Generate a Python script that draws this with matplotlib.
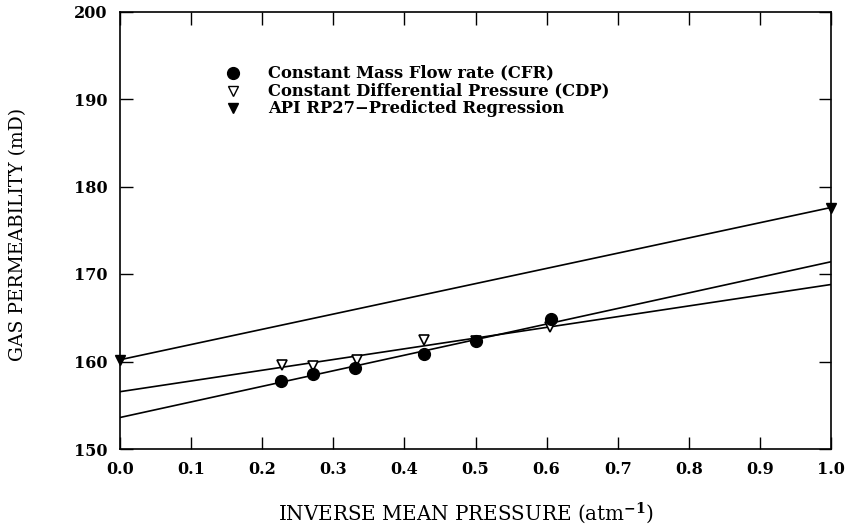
import matplotlib
matplotlib.use("Agg")
import matplotlib.pyplot as plt
import numpy as np

# ---- data ----
cfr_x = [0.227, 0.271, 0.331, 0.427, 0.501, 0.606]
cfr_y = [157.8, 158.6, 159.3, 160.9, 162.3, 164.9]
cdp_x = [0.228, 0.272, 0.333, 0.427, 0.501, 0.605]
cdp_y = [159.6, 159.5, 160.2, 162.5, 162.3, 164.0]
api_x = [0.0, 1.0]
api_y = [160.2, 177.6]
fit_x = [0.0, 1.0]
cfr_fit = [153.6, 171.4]
cdp_fit = [156.55, 168.8]
api_fit = [160.2, 177.6]
legend_labels = ["Constant Mass Flow rate (CFR)",
                 "Constant Differential Pressure (CDP)",
                 "API RP27\u2212Predicted Regression"]
xticks = [0.0, 0.1, 0.2, 0.3, 0.4, 0.5, 0.6, 0.7, 0.8, 0.9, 1.0]
yticks = [150, 160, 170, 180, 190, 200]

plt.rcParams['mathtext.fontset'] = 'dejavuserif'

fig = plt.figure(figsize=(8.49, 5.31), dpi=100)
ax = fig.add_axes([120/849, 1-449/531, 711/849, 437.5/531])

lw = 1.2
ax.plot(fit_x, cfr_fit, color='black', lw=lw, zorder=2)
ax.plot(fit_x, cdp_fit, color='black', lw=lw, zorder=2)
ax.plot(fit_x, api_fit, color='black', lw=lw, zorder=2)

ax.plot(cdp_x, cdp_y, linestyle='none', marker='v', markersize=7.5,
        markerfacecolor='white', markeredgecolor='black', markeredgewidth=1.2,
        zorder=3, clip_on=False)
ax.plot(cfr_x, cfr_y, linestyle='none', marker='o', markersize=8.5,
        color='black', zorder=4, clip_on=False)
ax.plot(api_x, api_y, linestyle='none', marker='v', markersize=7.5,
        color='black', zorder=4, clip_on=False)

ax.set_xlim(0, 1)
ax.set_ylim(150, 200)
ax.set_xticks(xticks)
ax.set_yticks(yticks)
ax.set_xticklabels([f"{t:.1f}" for t in xticks])
ax.set_yticklabels([str(t) for t in yticks])
ax.tick_params(direction='in', length=9, width=1.0, top=True, right=True,
               labeltop=False, labelright=False)
for lab in ax.get_xticklabels() + ax.get_yticklabels():
    lab.set_fontfamily('DejaVu Serif')
    lab.set_fontweight('bold')
    lab.set_fontsize(11.5)
ax.tick_params(axis='y', pad=9)
ax.tick_params(axis='x', pad=9)
for s in ax.spines.values():
    s.set_linewidth(1.2)

ax.set_xlabel("INVERSE MEAN PRESSURE (atm$^{\\mathbf{-1}}$)",
              fontfamily='DejaVu Serif', fontsize=14.3)
ax.xaxis.set_label_coords(0.487, -0.118)
ax.set_ylabel("GAS PERMEABILITY (mD)", fontfamily='DejaVu Serif', fontsize=13.5)
ax.yaxis.set_label_coords(-0.131, 0.49)

# legend
leg_markers = [dict(marker='o', color='black', markersize=8.5),
               dict(marker='v', markerfacecolor='white', markeredgecolor='black',
                    markeredgewidth=1.0, markersize=7),
               dict(marker='v', color='black', markersize=7)]
leg_y = [0.859, 0.819, 0.779]
for lbl, mk, yy in zip(legend_labels, leg_markers, leg_y):
    ax.plot([0.159], [yy], linestyle='none', transform=ax.transAxes, **mk)
    ax.text(0.208, yy, lbl, transform=ax.transAxes, va='center', ha='left',
            fontfamily='DejaVu Serif', fontweight='bold', fontsize=11.8)

fig.savefig("out.png", dpi=100)
